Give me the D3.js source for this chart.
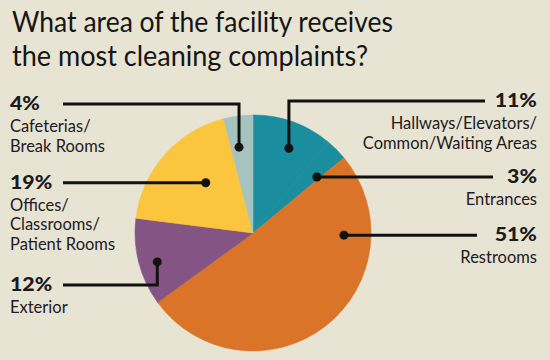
<!DOCTYPE html>
<html>
<head>
<meta charset="utf-8">
<script src="https://cdn.jsdelivr.net/npm/d3@7/dist/d3.min.js"></script>
<style>
  html, body { margin: 0; padding: 0; background: #e7e4d3; }
  svg { display: block; }
  text { font-family: Lato, "Open Sans", sans-serif; }
</style>
</head>
<body>
<svg id="chart" width="550" height="360"></svg>
<script>
// ---- data ----
const categories = ["Hallways/Elevators/Common/Waiting Areas", "Entrances", "Restrooms", "Exterior", "Offices/Classrooms/Patient Rooms", "Cafeterias/Break Rooms"];
const values = [11, 3, 51, 12, 19, 4];
const labelLines = [
  ["Hallways/Elevators/", "Common/Waiting Areas"],
  ["Entrances"],
  ["Restrooms"],
  ["Exterior"],
  ["Offices/", "Classrooms/", "Patient Rooms"],
  ["Cafeterias/", "Break Rooms"]
];
const titleLines = ["What area of the facility receives", "the most cleaning complaints?"];

// ---- layout / style (not data) ----
const colors = ["#1a8d9e", "#1a8d9e", "#da7428", "#845485", "#fbc53d", "#a6c3c0"];
const titleWidths = [381, 356];
const cx = 253, cy = 233, R = 118;
// annotation layout: position of dot within slice (fraction of angle, radius), side, elbow y
const annot = [
  { t: 0.58,  r: 92,  side: "right", elbowY: 101, endX: 485 },
  { t: 0.85,  r: 85,  side: "right", elbowY: null, endX: 493 },
  { t: 0.223, r: 91,  side: "right", elbowY: null, endX: 477 },
  { t: 0.444, r: 100, side: "left",  elbowY: 285, endX: 63 },
  { t: 0.579, r: 69,  side: "left",  elbowY: null, endX: 63 },
  { t: 0.358, r: 87,  side: "left",  elbowY: 104, endX: 63 }
];

const svg = d3.select("#chart");
svg.append("rect").attr("width", 550).attr("height", 360).attr("fill", "#e7e4d3");

// title
svg.append("g").selectAll("text").data(titleLines).join("text")
  .attr("x", 12)
  .attr("y", (d, i) => 32 + i * 34)
  .attr("font-size", 29.5)
  .attr("textLength", (d, i) => titleWidths[i])
  .attr("lengthAdjust", "spacingAndGlyphs")
  .attr("fill", "#151515")
  .text(d => d);

const pie = d3.pie().sort(null).startAngle(0).endAngle(2 * Math.PI).value(d => d);
const arcs = pie(values);
const arc = d3.arc().innerRadius(0).outerRadius(R);

const g = svg.append("g").attr("transform", `translate(${cx},${cy})`);
g.selectAll("path").data(arcs).join("path")
  .attr("d", arc)
  .attr("fill", (d, i) => colors[i])
  .attr("stroke", (d, i) => colors[i])
  .attr("stroke-width", 0.6)
  .attr("stroke-linejoin", "round");

// annotations
const ann = svg.append("g");
arcs.forEach((a, i) => {
  const cfg = annot[i];
  const ang = a.startAngle + cfg.t * (a.endAngle - a.startAngle);
  const dx = cx + cfg.r * Math.sin(ang);
  const dy = cy - cfg.r * Math.cos(ang);
  const ly = cfg.elbowY == null ? dy : cfg.elbowY;
  const path = d3.path();
  path.moveTo(dx, dy);
  if (cfg.elbowY != null) path.lineTo(dx, ly);
  path.lineTo(cfg.endX, ly);
  ann.append("path").attr("d", path.toString())
    .attr("fill", "none").attr("stroke", "#111").attr("stroke-width", 3);
  ann.append("circle").attr("cx", dx).attr("cy", dy).attr("r", 4.5).attr("fill", "#111");

  const right = cfg.side === "right";
  const tx = right ? 537 : 10;
  const anchor = right ? "end" : "start";
  const base = ly + 6;
  const pct = ann.append("text")
    .attr("x", tx).attr("y", base)
    .attr("text-anchor", anchor)
    .attr("font-size", 19).attr("font-weight", 900)
    .attr("fill", "#1c1a1c")
    .text(values[i] + "%");
  // widen the bold figures slightly to match the original face
  const w = pct.node().getComputedTextLength();
  pct.attr("textLength", w * 1.12).attr("lengthAdjust", "spacingAndGlyphs");
  labelLines[i].forEach((ln, j) => {
    ann.append("text")
      .attr("x", tx).attr("y", base + 22 + j * 19.5)
      .attr("text-anchor", anchor)
      .attr("font-size", 16.5)
      .attr("fill", "#231a23")
      .text(ln);
  });
});
</script>
</body>
</html>
